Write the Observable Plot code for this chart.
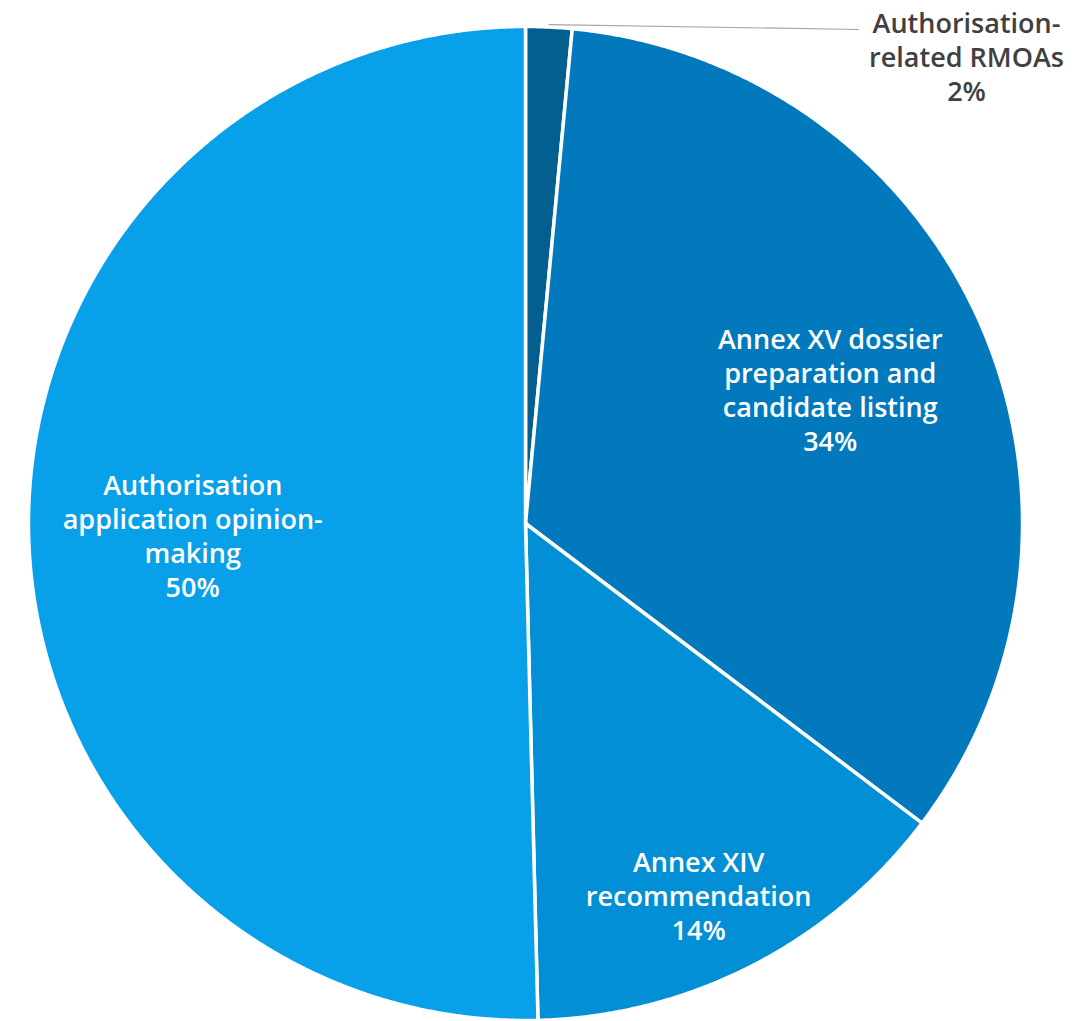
<!DOCTYPE html>
<html>
<head>
<meta charset="utf-8">
<script src="https://cdn.jsdelivr.net/npm/d3@7"></script>
<script src="https://cdn.jsdelivr.net/npm/@observablehq/plot@0.6"></script>
<style>
  html, body { margin: 0; padding: 0; background: #fff; }
</style>
</head>
<body>
<div id="chart"></div>
<script>
// Data (clockwise from 12 o'clock)
const categories = [
  "Authorisation-related RMOAs",
  "Annex XV dossier preparation and candidate listing",
  "Annex XIV recommendation",
  "Authorisation application opinion-making"
];
const values = [1.5, 33.8, 14.3, 50.4];
const labels = [
  "Authorisation-\nrelated RMOAs\n2%",
  "Annex XV dossier\npreparation and\ncandidate listing\n34%",
  "Annex XIV\nrecommendation\n14%",
  "Authorisation\napplication opinion-\nmaking\n50%"
];
const colors = ["#035f90", "#0179bc", "#038fd5", "#08a0e9"];

// Layout
const W = 1090, H = 1021, CX = 525, CY = 523, R = 497;
const labelRadius = [null, 0.67, 0.825, 0.67];
const labelAngleShift = [0, 0, 2.2, -1.3]; // degrees
const FS = 27;

const total = d3.sum(values);
const slices = [];
let acc = 0;
values.forEach((v, i) => {
  const a0 = acc / total * 2 * Math.PI;
  acc += v;
  const a1 = acc / total * 2 * Math.PI;
  slices.push({name: categories[i], label: labels[i], a0, a1, mid: (a0 + a1) / 2, i});
});

// polygon points for each slice (unit circle, angle clockwise from top)
const pts = [];
for (const s of slices) {
  pts.push({name: s.name, x: 0, y: 0});
  const n = Math.max(4, Math.ceil((s.a1 - s.a0) / 0.005));
  for (let k = 0; k <= n; k++) {
    const a = s.a0 + (s.a1 - s.a0) * k / n;
    pts.push({name: s.name, x: Math.sin(a), y: Math.cos(a)});
  }
  pts.push({name: s.name, x: 0, y: 0});
}

const inside = slices.filter(s => labelRadius[s.i] != null).map(s => {
  const a = s.mid + labelAngleShift[s.i] * Math.PI / 180;
  return {label: s.label, x: Math.sin(a) * labelRadius[s.i], y: Math.cos(a) * labelRadius[s.i]};
});

// outside label for small slice with leader line
const small = slices[0];
const leaderEnd = {x: (858 - CX) / R, y: (CY - 29) / R};
const leader = [
  {x: Math.sin(small.mid) * 1.005, y: Math.cos(small.mid) * 1.005},
  leaderEnd
];
const outside = [{label: small.label, x: (966 - CX) / R, y: (CY - 56) / R}];

const plot = Plot.plot({
  width: W,
  height: H,
  margin: 0,
  x: {domain: [-CX / R, (W - CX) / R], range: [0, W], axis: null},
  y: {domain: [-(H - CY) / R, CY / R], range: [H, 0], axis: null},
  color: {domain: categories, range: colors},
  style: {fontFamily: "'Open Sans', sans-serif", background: "#fff"},
  marks: [
    Plot.line(pts, {x: "x", y: "y", z: "name", fill: "name", stroke: "#fff", strokeWidth: 3.5, strokeLinejoin: "round"}),
    Plot.line(leader, {x: "x", y: "y", stroke: "#a6a6a6", strokeWidth: 1.2}),
    Plot.text(inside, {x: "x", y: "y", text: "label", fill: "#fff", fontSize: FS, fontWeight: 600, lineHeight: 34 / FS, textAnchor: "middle"}),
    Plot.text(outside, {x: "x", y: "y", text: "label", fill: "#404040", fontSize: FS, fontWeight: 600, lineHeight: 34 / FS, textAnchor: "middle"})
  ]
});
document.getElementById("chart").appendChild(plot);
</script>
</body>
</html>
